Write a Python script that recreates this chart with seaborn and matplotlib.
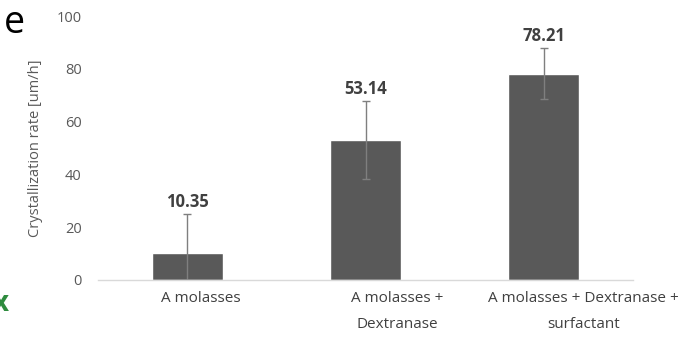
import matplotlib
matplotlib.use("Agg")
import matplotlib.pyplot as plt
import matplotlib.transforms as mtransforms
import seaborn as sns
import pandas as pd

categories = ["A molasses", "A molasses +\nDextranase", "A molasses + Dextranase +\nsurfactant"]
rates = [10.35, 53.14, 78.21]
errors = [14.7, 14.8, 9.8]
yticks = [0, 20, 40, 60, 80, 100]

sns.set_theme(style="white")
plt.rcParams["font.family"] = ["Open Sans", "DejaVu Sans"]

df = pd.DataFrame({"cat": categories, "rate": rates})

fig = plt.figure(figsize=(6.97, 3.49), dpi=100)
ax = fig.add_axes([0.141, 0.198, 0.767, 0.756])
sns.barplot(data=df, x="cat", y="rate", color="#595959", saturation=1,
            width=0.40, errorbar=None, ax=ax)
ax.errorbar(range(len(rates)), rates, yerr=errors, fmt="none",
            ecolor="#7f7f7f", elinewidth=1.0, capsize=3, capthick=1.0)
for i, (v, e) in enumerate(zip(rates, errors)):
    ax.annotate(f"{v:.2f}", (i, v + e), xytext=(0, 2), textcoords="offset points",
                ha="center", va="bottom", fontsize=12, fontweight="bold", color="#404040")

ax.set_xlim(-0.5, 2.5)
ax.set_ylim(0, 100)
ax.set_yticks(yticks)
ax.set_yticklabels([str(t) for t in yticks])
ax.tick_params(axis="y", labelsize=10.5, colors="#595959", length=0, pad=12)
ax.tick_params(axis="x", labelsize=11, colors="#404040", length=0, pad=8)
label_shift_px = [13, 32, 40]
for lbl, dx in zip(ax.get_xticklabels(), label_shift_px):
    lbl.set_linespacing(2.0)
    lbl.set_transform(lbl.get_transform() +
                      mtransforms.ScaledTranslation(dx / 100, 0, fig.dpi_scale_trans))
for s in ["top", "right", "left"]:
    ax.spines[s].set_visible(False)
ax.spines["bottom"].set_color("#d9d9d9")
ax.spines["bottom"].set_linewidth(1.0)
ax.set_xlabel("")
ax.set_ylabel("Crystallization rate [um/h]", fontsize=10.5, color="#595959", labelpad=10)

fig.text(0.005, 0.935, "e", fontsize=27, color="black", ha="left", va="center")
fig.text(-0.010, 0.13, "x", fontsize=20, color="#2e8b3e", ha="left", va="center", fontweight="bold")

fig.savefig("out.png", dpi=100)
